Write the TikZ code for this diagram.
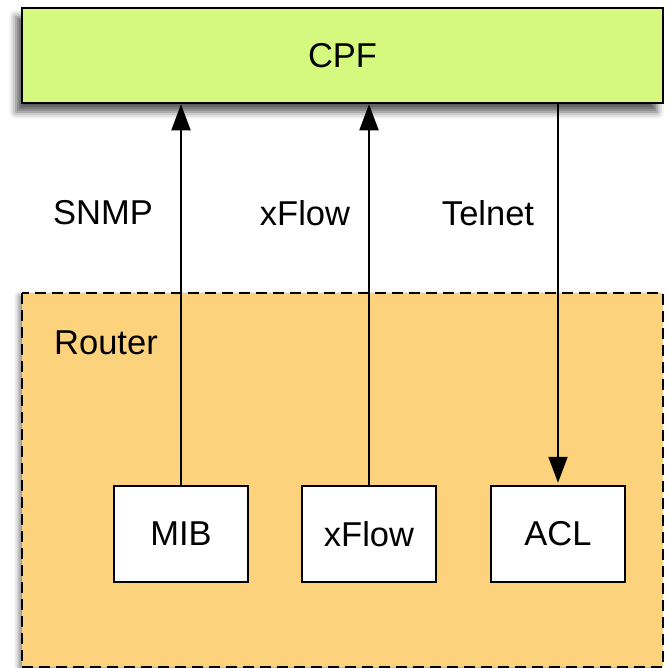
\documentclass[tikz,border=0pt]{standalone}
\usepackage{fontspec}
\setmainfont{Liberation Sans}
\usetikzlibrary{arrows.meta,shadows.blur}
\definecolor{cpfgreen}{HTML}{D5F97E}
\definecolor{routerorange}{HTML}{FDD27C}
\begin{document}
\begin{tikzpicture}[x=1pt,y=-1pt,
  lbl/.style={font=\fontsize{34.5}{40}\selectfont, inner sep=0pt},
  boxnode/.style={draw, line width=2.4pt, fill=white, minimum width=134pt, minimum height=96pt, inner sep=0pt, font=\fontsize{34.5}{40}\selectfont},
  arr/.style={line width=2pt, draw=black, -{Triangle[length=26pt,width=19pt,fill=black]}}]
\useasboundingbox (0,0) rectangle (668,668);
% router region
\path[fill=routerorange, draw=black, line width=2.6pt, dash pattern=on 11pt off 6pt,
  blur shadow={shadow xshift=-4pt, shadow yshift=-2pt, shadow blur radius=4pt, shadow opacity=40}]
  (22,293) rectangle (663,667);
\node[lbl] (router) at (106,343) {Router};
% CPF
\node[draw, line width=2.6pt, fill=cpfgreen, minimum width=641pt, minimum height=95pt, inner sep=0pt,
  font=\fontsize{34.5}{40}\selectfont,
  blur shadow={shadow xshift=-6pt, shadow yshift=-9pt, shadow blur radius=7pt, shadow opacity=65}]
  (cpf) at (342.5,55.5) {CPF};
% boxes
\node[boxnode] (mib) at (181,534) {MIB};
\node[boxnode] (xflowbox) at (369,534) {xFlow};
\node[boxnode] (acl) at (558,534) {ACL};
% arrows
\draw[arr] (mib.north) -- (mib.north |- cpf.south);
\draw[arr] (xflowbox.north) -- (xflowbox.north |- cpf.south);
\draw[arr] (cpf.south -| acl.north) -- ([yshift=2pt]acl.north);
% labels
\node[lbl] (snmp) at (103,213) {SNMP};
\node[lbl] (xflowlbl) at (305,213) {xFlow};
\node[lbl] (telnet) at (488,213) {Telnet};
\end{tikzpicture}
\end{document}
